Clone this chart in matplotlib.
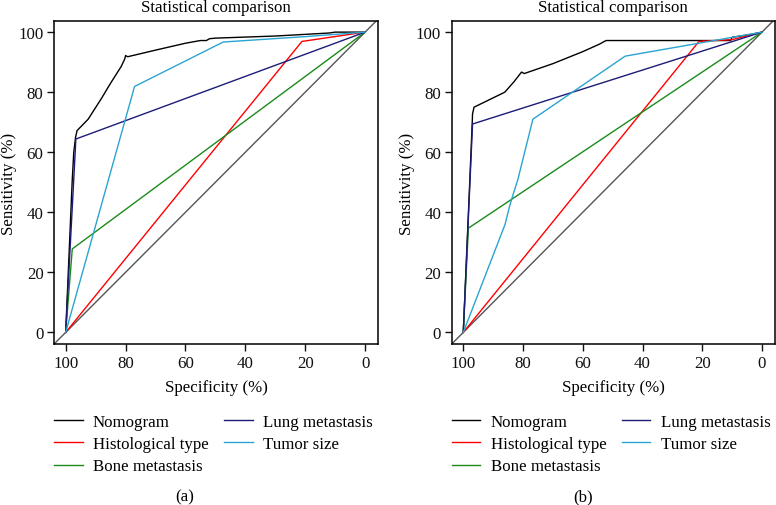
import matplotlib
matplotlib.use("Agg")
import matplotlib.pyplot as plt

plt.rcParams['font.family'] = ['Liberation Serif', 'DejaVu Serif']

# curve names and colours
names = ["Nomogram", "Histological type", "Bone metastasis", "Lung metastasis", "Tumor size"]
colors = ["#000000", "#ff0000", "#1a8a1a", "#1c1c78", "#2aa4d0"]

# panel (a): specificity / sensitivity (%)
nomo_a_spec = [100, 97.8, 97.3, 96.7, 96.2, 92.5, 88, 85, 81.5, 80.3, 80, 79.3, 70, 60, 55, 53, 52, 50, 30, 12, 10, 0]
nomo_a_sens = [0, 51, 60, 65, 67.2, 71, 78, 83, 88.5, 91, 92.2, 91.8, 94, 96.3, 97.2, 97.2, 97.8, 98, 98.7, 99.7, 100, 100]
hist_a_spec = [100, 21.1, 0]
hist_a_sens = [0, 96.9, 100]
bone_a_spec = [100, 97.8, 0]
bone_a_sens = [0, 27.8, 100]
lung_a_spec = [100, 96.6, 0]
lung_a_sens = [0, 64.4, 100]
tumor_a_spec = [100, 77, 47.4, 20, 0]
tumor_a_sens = [0, 81.9, 96.7, 98.5, 100]

# panel (b)
nomo_b_spec = [100, 97.8, 97, 96.9, 96.4, 86.1, 83, 80.5, 79.6, 70, 60, 54.4, 52.2, 30, 10.5, 10, 5, 0]
nomo_b_sens = [0, 51, 70, 72.8, 75, 80, 83.5, 86.7, 86.2, 89.5, 93.5, 96, 97.2, 97.2, 97.2, 98.3, 99, 100]
hist_b_spec = [100, 21.1, 10, 0]
hist_b_sens = [0, 96.9, 97.5, 100]
bone_b_spec = [100, 98.3, 0]
bone_b_sens = [0, 34.7, 100]
lung_b_spec = [100, 96.9, 0]
lung_b_sens = [0, 69.4, 100]
tumor_b_spec = [100, 86, 84.5, 83.3, 81.7, 76.7, 45.8, 20, 0]
tumor_b_sens = [0, 36, 42, 46, 51, 71, 92, 96.5, 100]

ticks = [0, 20, 40, 60, 80, 100]

panels = [
    ("(a)", [(nomo_a_spec, nomo_a_sens), (hist_a_spec, hist_a_sens), (bone_a_spec, bone_a_sens),
             (lung_a_spec, lung_a_sens), (tumor_a_spec, tumor_a_sens)]),
    ("(b)", [(nomo_b_spec, nomo_b_sens), (hist_b_spec, hist_b_sens), (bone_b_spec, bone_b_sens),
             (lung_b_spec, lung_b_sens), (tumor_b_spec, tumor_b_sens)]),
]

fig = plt.figure(figsize=(7.76, 5.06), dpi=100)
boxes = [[0.0696, 0.318, 0.4175, 0.6385], [0.582, 0.318, 0.4165, 0.6385]]
tag_x = [0.238, 0.751]
fs = 12.2

for box, tx, (tag, curves) in zip(boxes, tag_x, panels):
    ax = fig.add_axes(box)
    ax.axline((100, 0), (0, 100), color="#555555", lw=1.0, zorder=1)
    for (sp, se), name, col in zip(curves, names, colors):
        ax.plot(sp, se, color=col, lw=1.0, label=name, zorder=2)
    ax.set_xlim(103.9, -4.3)
    ax.set_ylim(-3.9, 103.7)
    ax.set_xticks(ticks)
    ax.set_yticks(ticks)
    ax.tick_params(direction="out", length=5, width=1, pad=2.5, labelsize=fs, colors="#111111")
    for s in ax.spines.values():
        s.set_linewidth(1.1)
    ax.set_xlabel("Specificity (%)", fontsize=fs, labelpad=6)
    ax.set_ylabel("Sensitivity (%)", fontsize=fs, labelpad=1)
    ax.set_title("Statistical comparison", fontsize=fs, pad=7)
    ax.legend(ncol=2, loc="upper left", bbox_to_anchor=(0.0, -0.215), frameon=False,
              fontsize=fs, handlelength=1.7, handletextpad=0.6, columnspacing=0.9,
              labelspacing=0.38, borderaxespad=0, borderpad=0)
    fig.text(tx, 0.018, tag, ha="center", va="center", fontsize=fs)

fig.savefig("out.png", dpi=100)
